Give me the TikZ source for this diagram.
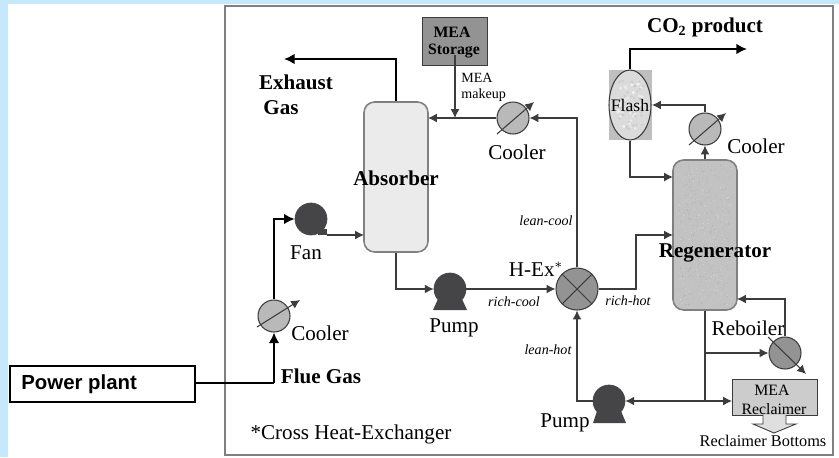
\documentclass[tikz,border=0pt]{standalone}
\usepackage{fontspec}
\setmainfont{Liberation Serif}
\newfontfamily\plantfont{Liberation Sans}
\usetikzlibrary{scopes,arrows.meta,shapes.geometric}
\definecolor{pagecol}{HTML}{C5E8FB}
\definecolor{linecol}{HTML}{3C3C3C}
\definecolor{pumpcol}{HTML}{454548}
\begin{document}
\begin{tikzpicture}[
    x=0.02cm,y=-0.02cm,
    stream/.style={draw=linecol,line width=0.7pt,-{Latex[length=5pt,width=5pt]}},
    gas/.style={draw=black,line width=1.1pt,-{Latex[length=6pt,width=6pt]}},
    vessel/.style={rectangle,rounded corners=6pt,draw=gray,line width=0.9pt,minimum width=1.28cm,minimum height=3cm,inner sep=0},
    cooler/.style={circle,draw=linecol,fill=gray!55,line width=0.6pt,minimum size=0.64cm,inner sep=0},
    pump/.style={circle,draw=pumpcol,fill=pumpcol,minimum size=0.64cm,inner sep=0},
    tag/.style={font=\fontsize{12}{12}\selectfont,inner sep=0},
    boldtag/.style={font=\fontsize{12}{12}\selectfont\bfseries,inner sep=0},
    smalltag/.style={font=\fontsize{8}{8}\selectfont\itshape,inner sep=0},
    dial/.style={draw=linecol,line width=0.6pt,-{Latex[length=5pt,width=5pt]}},
]
\fill[pagecol] (0,0) rectangle (839,457);
\fill[white] (8,3.5) rectangle (839,457);
\node[draw=gray,line width=0.9pt,minimum width=12.16cm,minimum height=8.98cm,inner sep=0] (frame) at (529,230.5) {};

% vessels
\node[vessel,fill=gray!16] (absorber) at (396,177) {};
\node[vessel,fill=gray!48] (regen) at (705,235) {};
\pgfmathsetseed{7}
\foreach \i in {1,...,260} {
    \fill[gray!25] (705+27*rand,235+70*rand) circle (0.4);
    \fill[gray!70] (705+27*rand,235+70*rand) circle (0.4);
}
\fill[gray!50] (609,70) rectangle (652,140);
\node[ellipse,draw=linecol,fill=gray!28,line width=0.6pt,minimum width=0.84cm,minimum height=1.4cm,inner sep=0] (flash) at (630,105) {};
\foreach \i in {1,...,45} {
    \fill[gray!45,opacity=0.6] (630+13*rand,105+24*rand) circle (1.5);
    \fill[white,opacity=0.5] (630+13*rand,105+24*rand) circle (1.5);
}
\node[rectangle,draw=linecol,fill=gray!85,minimum width=1.3cm,minimum height=0.96cm,inner sep=0] (storage) at (454.5,41) {};
\node[rectangle,draw=linecol,fill=gray!40,minimum width=1.7cm,minimum height=0.72cm,inner sep=0] (reclaimer) at (774.5,397) {};
\node[rectangle,draw=black,line width=0.6pt,minimum width=3.7cm,minimum height=0.72cm,inner sep=0] (plant) at (102.5,384) {};

% coolers and exchanger
\node[cooler] (coolera) at (513,118) {};
\node[cooler] (coolerb) at (705,129) {};
\node[cooler] (coolerc) at (274,316) {};
\node[cooler,fill=gray!85] (reboiler) at (785,353) {};
\node[circle,draw=linecol,fill=gray!85,line width=0.6pt,minimum size=0.84cm,inner sep=0] (hex) at (577,289) {};
\draw[linecol,line width=0.6pt] (hex.north west) -- (hex.south east) (hex.north east) -- (hex.south west);
{[dial]
    \draw (497,134) -- (534,102);
    \draw (689,145) -- (726,113);
    \draw (257,327) -- (300,300);
    \draw (768,337) -- (806,374);
}

% pumps and fan
\node[pump] (pumpa) at (450,289) {};
\node[pump] (pumpb) at (609,401) {};
\node[pump] (fan) at (311,219) {};
\fill[pumpcol] (438,299) -- (462,299) -- (467,310) -- (433,310) -- cycle;
\fill[pumpcol] (597,411) -- (621,411) -- (626,423) -- (593,423) -- cycle;
\fill[pumpcol] (318,229) rectangle (327,235);

% junctions on the streams
\coordinate (exhaust) at (284,59);
\coordinate (storeout) at (455,55);
\coordinate (makeup) at (455,118);
\coordinate (absback) at (428,118);
\coordinate (product) at (747,49);
\coordinate (rebtop) at (737,299);
\coordinate (split) at (705,353);
\coordinate (tee) at (705,401);
\coordinate (reclin) at (732,401);
\coordinate (fanout) at (327,235);
\coordinate (absin) at (364,235);
\coordinate (regenin) at (673,235);
\coordinate (regenfl) at (673,177);
\coordinate (fluetee) at (274,383);
\coordinate (flashin) at (652,105);

{[stream]
    \draw (coolera.west) -- (absback);
    \draw (hex.north) |- (coolera.east);
    \draw (storeout) -- (makeup);
    \draw (absorber.south) |- (pumpa.west);
    \draw (pumpa.east) -- (hex.west);
    \draw (hex.east) -- (636,289) |- (regenin);
    \draw (regen.north) -- (coolerb.south);
    \draw (coolerb.north) |- (flashin);
    \draw (flash.south) |- (regenfl);
    \draw (fanout) -- (absin);
    \draw (regen.south) -- (tee) -- (pumpb.east);
    \draw (tee) -- (reclin);
    \draw (split) -- (reboiler.west);
    \draw (reboiler.north) |- (rebtop);
    \draw (pumpb.west) -| (hex.south);
}
{[gas]
    \draw (absorber.north) |- (exhaust);
    \draw (flash.north) |- (product);
    \draw (fluetee) -- (coolerc.south);
    \draw (coolerc.north) |- (fan.west);
}
\draw[black,line width=0.7pt] (plant.east) ++(0,-1) -- (fluetee);

% bottoms block arrow
\draw[linecol,fill=gray!25,line width=0.5pt] (763,415) -- (763,424) -- (753,424) -- (774,433) -- (796,424) -- (786,424) -- (786,415);

% labels
\node[boldtag] (exhaustlab) at (296,82) {Exhaust};
\node[boldtag] (gaslab) at (281,108) {Gas};
\node[boldtag] (abslab) at (396,178) {Absorber};
\node[boldtag] (regenlab) at (715,253) {Regenerator};
\node[boldtag] (co2lab) at (705,27) {CO$_{\mathbf 2}$ product};
\node[boldtag] (fluelab) at (321,376) {Flue Gas};
\node[tag] (coolalab) at (517,152) {Cooler};
\node[tag] (coolblab) at (756,146) {Cooler};
\node[tag] (coolclab) at (320,333) {Cooler};
\node[tag] (fanlab) at (306,253) {Fan};
\node[tag] (pumpalab) at (454,328) {Pump};
\node[tag] (pumpblab) at (565,423) {Pump};
\node[tag] (hexlab) at (536,269) {H-Ex$^{*}$};
\node[tag] (reblab) at (748,328) {Reboiler};
\node[tag] (crosslab) at (351,434) {*Cross Heat-Exchanger};
\node[font=\fontsize{9}{9}\selectfont\bfseries,inner sep=0] (mealab) at (452,32) {MEA};
\node[font=\fontsize{9}{9}\selectfont\bfseries,inner sep=0] (storlab) at (454,51) {Storage};
\node[font=\fontsize{8}{8}\selectfont,inner sep=0,anchor=west] (makealab) at (461,78) {MEA};
\node[font=\fontsize{8}{8}\selectfont,inner sep=0,anchor=west] (makeblab) at (461,95) {makeup};
\node[font=\fontsize{10}{10}\selectfont,inner sep=0] (flashlab) at (630,105) {Flash};
\node[font=\fontsize{9}{9}\selectfont,inner sep=0] (reclalab) at (772,390) {MEA};
\node[font=\fontsize{9}{9}\selectfont,inner sep=0] (reclblab) at (774,409) {Reclaimer};
\node[font=\fontsize{9.3}{10}\selectfont,inner sep=0] (bottomlab) at (763,441) {Reclaimer Bottoms};
\node[smalltag] (leancool) at (546,221) {lean-cool};
\node[smalltag] (leanhot) at (548,350) {lean-hot};
\node[smalltag] (richcool) at (514,302) {rich-cool};
\node[smalltag] (richhot) at (628,301) {rich-hot};
\node[font=\plantfont\fontsize{11.6}{12}\selectfont\bfseries,inner sep=0,anchor=west] (plantlab) at (21,384) {Power plant};
\end{tikzpicture}
\end{document}
